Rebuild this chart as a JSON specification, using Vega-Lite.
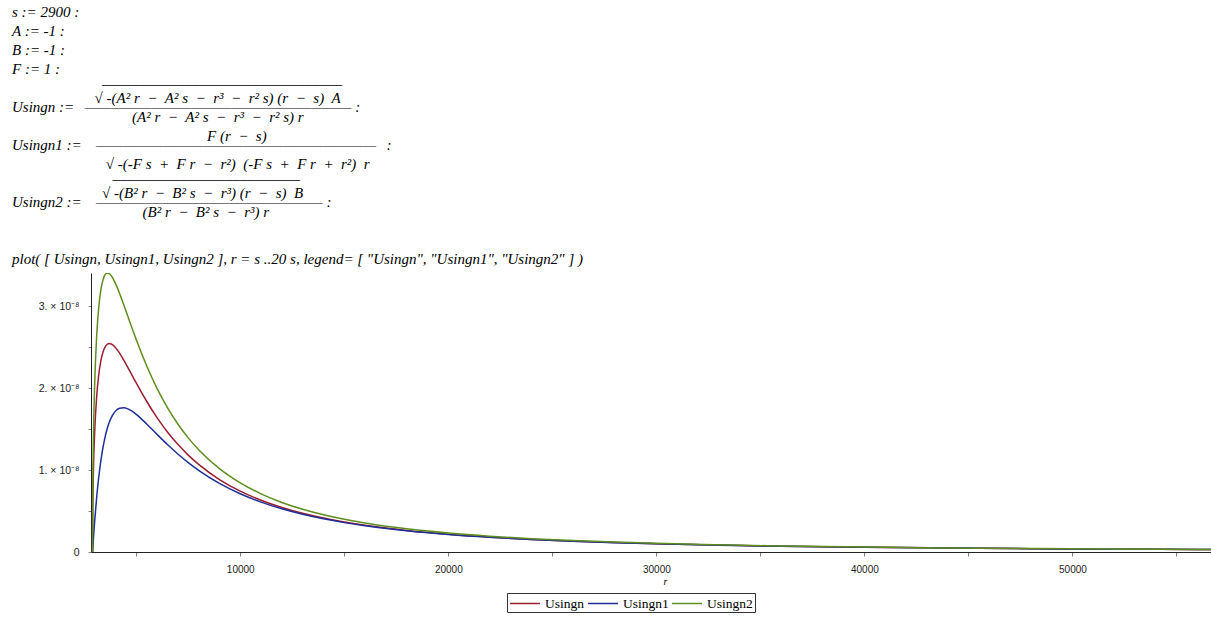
{
  "$schema": "https://vega.github.io/schema/vega-lite/v6.json",
  "width": 1120,
  "height": 279,
  "padding": {"left": 12, "top": 5, "right": 0, "bottom": 0},
  "autosize": {"type": "pad"},
  "background": "#ffffff",
  "title": {
    "text": [
      "s := 2900 :",
      "\u200b",
      "A := -1 :",
      "\u200b",
      "B := -1 :",
      "\u200b",
      "F := 1 :",
      "\u200b\u2003\u2003\u2003\u2003\u2003\u2003________________________________",
      "\u200b",
      "\u200b\u2003\u2003\u2003\u2003\u2003\u2002√\u00a0-(A²\u00a0r\u2002−\u2002A²\u00a0s\u2002−\u2002r³\u2002−\u2002r²\u00a0s)\u00a0(r\u2002−\u2002s)\u2002A",
      "Usingn\u00a0:=\u2002\u2009————————————————————\u00a0:",
      "\u200b\u2003\u2003\u2003\u2003\u2003\u2003\u2003\u2003(A²\u00a0r\u2002−\u2002A²\u00a0s\u2002−\u2002r³\u2002−\u2002r²\u00a0s)\u00a0r",
      "\u200b",
      "\u200b\u2003\u2003\u2003\u2003\u2003\u2003\u2003\u2003\u2003\u2003\u2003\u2003\u2003F\u00a0(r\u2002−\u2002s)",
      "Usingn1\u00a0:=\u2002\u00a0\u2009—\u2014\u2014\u2014\u2014\u2014\u2014\u2014\u2014\u2014\u2014\u2014\u2014\u2014\u2014\u2014\u2014\u2014\u2014\u2014\u2014\u2002\u2009:",
      "\u200b",
      "\u200b\u2003\u2003\u2003\u2003\u2003\u2003\u00a0√\u00a0-(-F\u00a0s\u2002+\u2002F\u00a0r\u2002−\u2002r²)\u2002(-F\u00a0s\u2002+\u2002F\u00a0r\u2002+\u2002r²)\u2002r",
      "\u200b\u2003\u2003\u2003\u2003\u2003\u2003\u2002\u2009_________________________",
      "\u200b",
      "\u200b\u2003\u2003\u2003\u2003\u2003\u2003√\u00a0-(B²\u00a0r\u2002−\u2002B²\u00a0s\u2002−\u2002r³)\u00a0(r\u2002−\u2002s)\u2002B",
      "Usingn2\u00a0:=\u2002\u00a0\u2009—————————————————\u00a0:",
      "\u200b\u2003\u2003\u2003\u2003\u2003\u2003\u2003\u2003\u2002\u2009(B²\u00a0r\u2002−\u2002B²\u00a0s\u2002−\u2002r³)\u00a0r",
      "\u200b",
      "\u200b",
      "\u200b",
      "\u200b",
      "plot( [ Usingn, Usingn1, Usingn2 ], r = s ..20 s, legend= [ \"Usingn\", \"Usingn1\", \"Usingn2\" ] )"
    ],
    "anchor": "start",
    "frame": "group",
    "dx": -79,
    "offset": 6,
    "font": "Liberation Serif",
    "fontSize": 15,
    "fontStyle": "italic",
    "fontWeight": "normal",
    "color": "#000000",
    "lineHeight": 9.5,
    "baseline": "top"
  },
  "data": {
    "values": [
      {"r": 2900, "f": "Usingn", "u": 0},
      {"r": 2910, "f": "Usingn", "u": 4.899e-9},
      {"r": 2950, "f": "Usingn", "u": 1.0623e-8},
      {"r": 3000, "f": "Usingn", "u": 1.4465e-8},
      {"r": 3100, "f": "Usingn", "u": 1.8998e-8},
      {"r": 3200, "f": "Usingn", "u": 2.1657e-8},
      {"r": 3300, "f": "Usingn", "u": 2.3324e-8},
      {"r": 3400, "f": "Usingn", "u": 2.4370e-8},
      {"r": 3500, "f": "Usingn", "u": 2.4995e-8},
      {"r": 3600, "f": "Usingn", "u": 2.5322e-8},
      {"r": 3700, "f": "Usingn", "u": 2.5432e-8},
      {"r": 3800, "f": "Usingn", "u": 2.5382e-8},
      {"r": 4000, "f": "Usingn", "u": 2.4955e-8},
      {"r": 4200, "f": "Usingn", "u": 2.4258e-8},
      {"r": 4400, "f": "Usingn", "u": 2.3414e-8},
      {"r": 4600, "f": "Usingn", "u": 2.2500e-8},
      {"r": 4800, "f": "Usingn", "u": 2.1560e-8},
      {"r": 5000, "f": "Usingn", "u": 2.0623e-8},
      {"r": 5500, "f": "Usingn", "u": 1.8392e-8},
      {"r": 6000, "f": "Usingn", "u": 1.6394e-8},
      {"r": 6500, "f": "Usingn", "u": 1.4647e-8},
      {"r": 7000, "f": "Usingn", "u": 1.3133e-8},
      {"r": 7500, "f": "Usingn", "u": 1.1823e-8},
      {"r": 8000, "f": "Usingn", "u": 1.0688e-8},
      {"r": 9000, "f": "Usingn", "u": 8.839e-9},
      {"r": 10000, "f": "Usingn", "u": 7.419e-9},
      {"r": 11000, "f": "Usingn", "u": 6.309e-9},
      {"r": 12000, "f": "Usingn", "u": 5.427e-9},
      {"r": 13000, "f": "Usingn", "u": 4.716e-9},
      {"r": 14000, "f": "Usingn", "u": 4.135e-9},
      {"r": 15000, "f": "Usingn", "u": 3.654e-9},
      {"r": 16000, "f": "Usingn", "u": 3.252e-9},
      {"r": 18000, "f": "Usingn", "u": 2.623e-9},
      {"r": 20000, "f": "Usingn", "u": 2.160e-9},
      {"r": 22000, "f": "Usingn", "u": 1.810e-9},
      {"r": 24000, "f": "Usingn", "u": 1.538e-9},
      {"r": 26000, "f": "Usingn", "u": 1.323e-9},
      {"r": 28000, "f": "Usingn", "u": 1.150e-9},
      {"r": 30000, "f": "Usingn", "u": 1.008e-9},
      {"r": 33000, "f": "Usingn", "u": 8.41e-10},
      {"r": 36000, "f": "Usingn", "u": 7.12e-10},
      {"r": 40000, "f": "Usingn", "u": 5.81e-10},
      {"r": 44000, "f": "Usingn", "u": 4.84e-10},
      {"r": 48000, "f": "Usingn", "u": 4.09e-10},
      {"r": 52000, "f": "Usingn", "u": 3.50e-10},
      {"r": 56000, "f": "Usingn", "u": 3.03e-10},
      {"r": 58000, "f": "Usingn", "u": 2.83e-10},
      {"r": 2900, "f": "Usingn1", "u": 0},
      {"r": 2910, "f": "Usingn1", "u": 4.06e-10},
      {"r": 2950, "f": "Usingn1", "u": 1.948e-9},
      {"r": 3000, "f": "Usingn1", "u": 3.704e-9},
      {"r": 3100, "f": "Usingn1", "u": 6.714e-9},
      {"r": 3200, "f": "Usingn1", "u": 9.155e-9},
      {"r": 3300, "f": "Usingn1", "u": 1.1131e-8},
      {"r": 3400, "f": "Usingn1", "u": 1.2721e-8},
      {"r": 3500, "f": "Usingn1", "u": 1.3994e-8},
      {"r": 3600, "f": "Usingn1", "u": 1.5004e-8},
      {"r": 3700, "f": "Usingn1", "u": 1.5794e-8},
      {"r": 3800, "f": "Usingn1", "u": 1.6402e-8},
      {"r": 4000, "f": "Usingn1", "u": 1.7188e-8},
      {"r": 4200, "f": "Usingn1", "u": 1.7547e-8},
      {"r": 4400, "f": "Usingn1", "u": 1.7609e-8},
      {"r": 4600, "f": "Usingn1", "u": 1.7465e-8},
      {"r": 4800, "f": "Usingn1", "u": 1.7180e-8},
      {"r": 5000, "f": "Usingn1", "u": 1.6800e-8},
      {"r": 5500, "f": "Usingn1", "u": 1.5627e-8},
      {"r": 6000, "f": "Usingn1", "u": 1.4352e-8},
      {"r": 6500, "f": "Usingn1", "u": 1.3109e-8},
      {"r": 7000, "f": "Usingn1", "u": 1.1953e-8},
      {"r": 7500, "f": "Usingn1", "u": 1.0904e-8},
      {"r": 8000, "f": "Usingn1", "u": 9.961e-9},
      {"r": 9000, "f": "Usingn1", "u": 8.368e-9},
      {"r": 10000, "f": "Usingn1", "u": 7.100e-9},
      {"r": 11000, "f": "Usingn1", "u": 6.086e-9},
      {"r": 12000, "f": "Usingn1", "u": 5.266e-9},
      {"r": 13000, "f": "Usingn1", "u": 4.597e-9},
      {"r": 14000, "f": "Usingn1", "u": 4.045e-9},
      {"r": 15000, "f": "Usingn1", "u": 3.585e-9},
      {"r": 16000, "f": "Usingn1", "u": 3.198e-9},
      {"r": 18000, "f": "Usingn1", "u": 2.589e-9},
      {"r": 20000, "f": "Usingn1", "u": 2.138e-9},
      {"r": 22000, "f": "Usingn1", "u": 1.794e-9},
      {"r": 24000, "f": "Usingn1", "u": 1.526e-9},
      {"r": 26000, "f": "Usingn1", "u": 1.314e-9},
      {"r": 28000, "f": "Usingn1", "u": 1.143e-9},
      {"r": 30000, "f": "Usingn1", "u": 1.004e-9},
      {"r": 33000, "f": "Usingn1", "u": 8.38e-10},
      {"r": 36000, "f": "Usingn1", "u": 7.09e-10},
      {"r": 40000, "f": "Usingn1", "u": 5.80e-10},
      {"r": 44000, "f": "Usingn1", "u": 4.83e-10},
      {"r": 48000, "f": "Usingn1", "u": 4.08e-10},
      {"r": 52000, "f": "Usingn1", "u": 3.49e-10},
      {"r": 56000, "f": "Usingn1", "u": 3.02e-10},
      {"r": 58000, "f": "Usingn1", "u": 2.82e-10},
      {"r": 2900, "f": "Usingn2", "u": 0},
      {"r": 2910, "f": "Usingn2", "u": 6.922e-9},
      {"r": 2950, "f": "Usingn2", "u": 1.4960e-8},
      {"r": 3000, "f": "Usingn2", "u": 2.0287e-8},
      {"r": 3100, "f": "Usingn2", "u": 2.6431e-8},
      {"r": 3200, "f": "Usingn2", "u": 2.9900e-8},
      {"r": 3300, "f": "Usingn2", "u": 3.1970e-8},
      {"r": 3400, "f": "Usingn2", "u": 3.3173e-8},
      {"r": 3500, "f": "Usingn2", "u": 3.3799e-8},
      {"r": 3600, "f": "Usingn2", "u": 3.4024e-8},
      {"r": 3700, "f": "Usingn2", "u": 3.3966e-8},
      {"r": 3800, "f": "Usingn2", "u": 3.3703e-8},
      {"r": 4000, "f": "Usingn2", "u": 3.2775e-8},
      {"r": 4200, "f": "Usingn2", "u": 3.1539e-8},
      {"r": 4400, "f": "Usingn2", "u": 3.0159e-8},
      {"r": 4600, "f": "Usingn2", "u": 2.8730e-8},
      {"r": 4800, "f": "Usingn2", "u": 2.7307e-8},
      {"r": 5000, "f": "Usingn2", "u": 2.5923e-8},
      {"r": 5500, "f": "Usingn2", "u": 2.2729e-8},
      {"r": 6000, "f": "Usingn2", "u": 1.9966e-8},
      {"r": 6500, "f": "Usingn2", "u": 1.7615e-8},
      {"r": 7000, "f": "Usingn2", "u": 1.5619e-8},
      {"r": 7500, "f": "Usingn2", "u": 1.3923e-8},
      {"r": 8000, "f": "Usingn2", "u": 1.2476e-8},
      {"r": 9000, "f": "Usingn2", "u": 1.0164e-8},
      {"r": 10000, "f": "Usingn2", "u": 8.426e-9},
      {"r": 11000, "f": "Usingn2", "u": 7.092e-9},
      {"r": 12000, "f": "Usingn2", "u": 6.047e-9},
      {"r": 13000, "f": "Usingn2", "u": 5.216e-9},
      {"r": 14000, "f": "Usingn2", "u": 4.543e-9},
      {"r": 15000, "f": "Usingn2", "u": 3.992e-9},
      {"r": 16000, "f": "Usingn2", "u": 3.535e-9},
      {"r": 18000, "f": "Usingn2", "u": 2.827e-9},
      {"r": 20000, "f": "Usingn2", "u": 2.312e-9},
      {"r": 22000, "f": "Usingn2", "u": 1.925e-9},
      {"r": 24000, "f": "Usingn2", "u": 1.628e-9},
      {"r": 26000, "f": "Usingn2", "u": 1.394e-9},
      {"r": 28000, "f": "Usingn2", "u": 1.208e-9},
      {"r": 30000, "f": "Usingn2", "u": 1.056e-9},
      {"r": 33000, "f": "Usingn2", "u": 8.77e-10},
      {"r": 36000, "f": "Usingn2", "u": 7.40e-10},
      {"r": 40000, "f": "Usingn2", "u": 6.02e-10},
      {"r": 44000, "f": "Usingn2", "u": 4.99e-10},
      {"r": 48000, "f": "Usingn2", "u": 4.21e-10},
      {"r": 52000, "f": "Usingn2", "u": 3.59e-10},
      {"r": 56000, "f": "Usingn2", "u": 3.11e-10},
      {"r": 58000, "f": "Usingn2", "u": 2.90e-10}
    ]
  },
  "mark": {"type": "line", "strokeWidth": 1.5, "interpolate": "monotone", "clip": true},
  "encoding": {
    "x": {
      "field": "r",
      "type": "quantitative",
      "scale": {"domain": [2826, 56660], "nice": false, "zero": false},
      "axis": {
        "title": "r",
        "titleFont": "Liberation Serif",
        "titleFontStyle": "italic",
        "titleFontWeight": "normal",
        "titleFontSize": 10,
        "titleColor": "#000000",
        "titlePadding": 2,
        "titleX": 574,
        "values": [5000, 10000, 15000, 20000, 25000, 30000, 35000, 40000, 45000, 50000, 55000],
        "labelExpr": "datum.value % 10000 === 0 ? format(datum.value, 'd') : ''",
        "labelFont": "Liberation Sans",
        "labelFontSize": 10,
        "labelColor": "#222222",
        "labelPadding": 8,
        "labelFlush": false,
        "labelOverlap": false,
        "tickSize": 4,
        "tickColor": "#888888",
        "domainColor": "#222222",
        "domainWidth": 1,
        "grid": false
      }
    },
    "y": {
      "field": "u",
      "type": "quantitative",
      "scale": {"domain": [0, 3.404e-8], "nice": false, "zero": true},
      "axis": {
        "title": null,
        "values": [0, 5e-9, 1e-8, 1.5e-8, 2e-8, 2.5e-8, 3e-8],
        "labelExpr": "datum.value === 0 ? '0' : (abs(datum.value * 1e8 - round(datum.value * 1e8)) < 0.01 ? format(round(datum.value * 1e8), 'd') + '. × 10⁻⁸' : '')",
        "labelFont": "Liberation Sans",
        "labelFontSize": 10.5,
        "labelColor": "#222222",
        "labelPadding": 9,
        "labelFlush": false,
        "labelOverlap": false,
        "tickSize": 3,
        "tickColor": "#888888",
        "domainColor": "#222222",
        "domainWidth": 1,
        "grid": false
      }
    },
    "color": {
      "field": "f",
      "type": "nominal",
      "scale": {"domain": ["Usingn", "Usingn1", "Usingn2"], "range": ["#9a1e2e", "#1e2e9a", "#5e8e1e"]},
      "legend": {
        "title": null,
        "orient": "none",
        "legendX": 416,
        "legendY": 320,
        "direction": "horizontal",
        "gridAlign": "each",
        "symbolType": "M-1,0H3",
        "symbolSize": 225,
        "symbolStrokeWidth": 1.5,
        "labelFont": "Liberation Serif",
        "labelFontSize": 13.5,
        "labelColor": "#000000",
        "strokeColor": "#333333",
        "fillColor": "#ffffff",
        "padding": 2,
        "columnPadding": 0,
        "labelOffset": 19
      }
    }
  },
  "config": {"view": {"stroke": null}}
}
